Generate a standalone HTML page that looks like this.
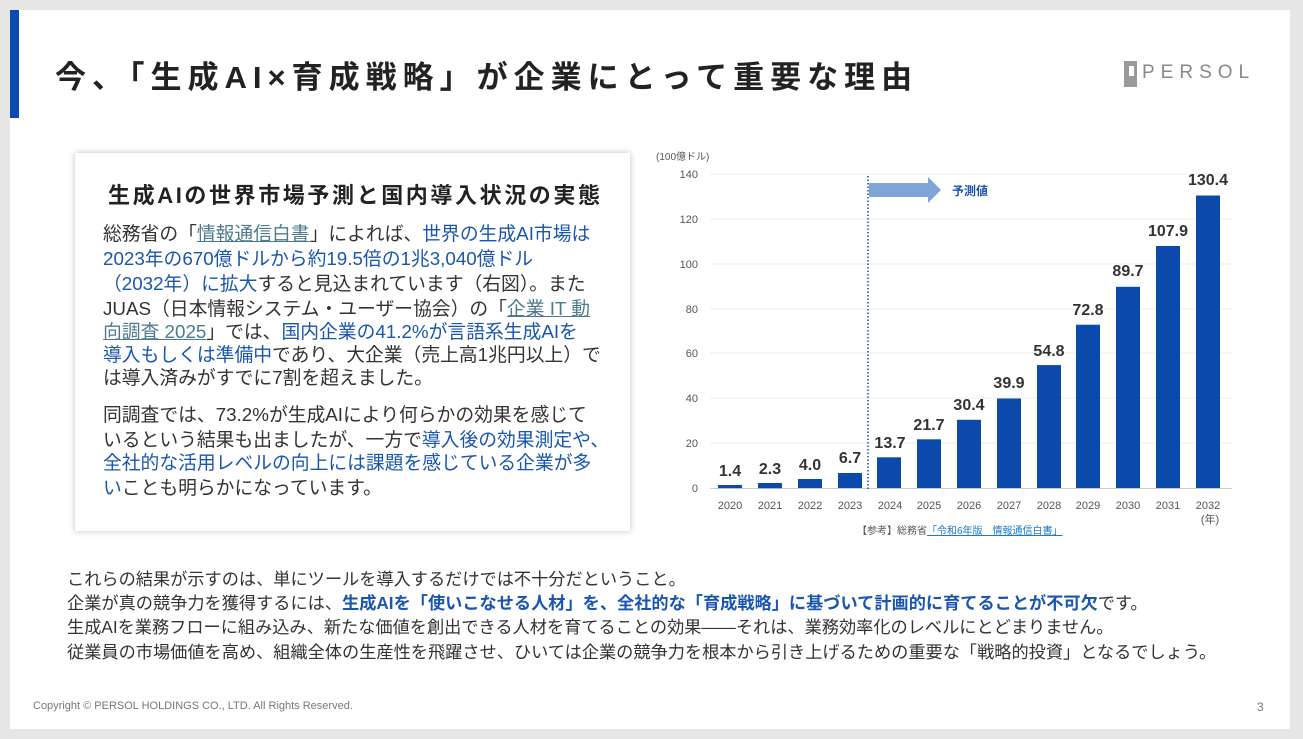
<!DOCTYPE html>
<html><head><meta charset="utf-8"><style>
body{margin:0;width:1303px;height:739px;background:#e6e6e6;font-family:"Liberation Sans","Noto Sans CJK JP",sans-serif;position:relative;overflow:hidden}
.slide{position:absolute;left:10px;top:10px;width:1280px;height:719px;background:#fff}
.abs{position:absolute;white-space:nowrap}
.box{position:absolute;left:75px;top:153px;width:555px;height:378px;background:#fff;box-shadow:0 0 6px rgba(0,0,0,.25)}
.p{position:absolute;left:103px;font-size:18.8px;color:#333;white-space:nowrap;line-height:24px}
.bt{position:absolute;left:67px;font-size:17.2px;color:#333;white-space:nowrap}
span.b,div.b{color:#1a56b0}
.u{color:#4d7a8c;text-decoration:underline}
</style></head><body>
<div class="slide"></div>
<div class="abs" style="left:10px;top:10px;width:9px;height:108px;background:#0b4ab0"></div>
<div class="abs" style="left:55px;top:52px;font-size:31px;font-weight:bold;color:#222;letter-spacing:6px">今、「生成AI×育成戦略」が企業にとって重要な理由</div>
<div class="abs" style="left:1124px;top:61px;width:13px;height:26px;background:#9a9a9a"></div>
<div class="abs" style="left:1129px;top:66px;width:5px;height:10px;background:#fff"></div>
<div class="abs" style="left:1142px;top:62px;font-size:19px;color:#888;letter-spacing:6px">PERSOL</div>

<div class="box"></div>
<div class="abs" style="left:108px;top:178px;font-size:22px;font-weight:bold;color:#222;letter-spacing:2.6px">生成AIの世界市場予測と国内導入状況の実態</div>
<div class="p" style="top:222px">総務省の「<span class="u">情報通信白書</span>」によれば、<span class="b">世界の生成AI市場は</span></div>
<div class="p b" style="top:247px">2023年の670億ドルから約19.5倍の1兆3,040億ドル</div>
<div class="p" style="top:272px"><span class="b">（2032年）に拡大</span>すると見込まれています（右図）。また</div>
<div class="p" style="top:297px">JUAS（日本情報システム・ユーザー協会）の「<span class="u">企業 IT 動</span></div>
<div class="p" style="top:320px"><span class="u">向調査 2025</span>」では、<span class="b">国内企業の41.2%が言語系生成AIを</span></div>
<div class="p" style="top:343px"><span class="b">導入もしくは準備中</span>であり、大企業（売上高1兆円以上）で</div>
<div class="p" style="top:366px">は導入済みがすでに7割を超えました。</div>
<div class="p" style="top:403px">同調査では、73.2%が生成AIにより何らかの効果を感じて</div>
<div class="p" style="top:428px">いるという結果も出ましたが、一方で<span class="b">導入後の効果測定や、</span></div>
<div class="p b" style="top:451px">全社的な活用レベルの向上には課題を感じている企業が多</div>
<div class="p" style="top:476px"><span class="b">い</span>ことも明らかになっています。</div>

<svg class="abs" style="left:0;top:0" width="1303" height="739" font-family="Liberation Sans, Noto Sans CJK JP, sans-serif">
<text x="656" y="160" font-size="10" fill="#555">(100億ドル)</text>
<g stroke="#eee" stroke-width="1">
<line x1="710" y1="174" x2="1232" y2="174"/><line x1="710" y1="219" x2="1232" y2="219"/><line x1="710" y1="264" x2="1232" y2="264"/><line x1="710" y1="309" x2="1232" y2="309"/><line x1="710" y1="353" x2="1232" y2="353"/><line x1="710" y1="398" x2="1232" y2="398"/><line x1="710" y1="443" x2="1232" y2="443"/>
</g>
<line x1="710" y1="488.5" x2="1232" y2="488.5" stroke="#ccc"/>
<g font-size="11" fill="#555" text-anchor="end">
<text x="698" y="178">140</text><text x="698" y="223">120</text><text x="698" y="268">100</text><text x="698" y="313">80</text><text x="698" y="357">60</text><text x="698" y="402">40</text><text x="698" y="447">20</text><text x="698" y="492">0</text>
</g>
<line x1="868" y1="176" x2="868" y2="490" stroke="#1a4f9c" stroke-width="1.5" stroke-dasharray="1.5,2"/>
<polygon points="869,183 928,183 928,177 941,190 928,203 928,197 869,197" fill="#7fa4d6"/>
<text x="952" y="195" font-size="12" font-weight="bold" fill="#1a56b0">予測値</text>
<g fill="#0b4aab">
<rect x="718" y="485" width="24" height="3.1"/>
<rect x="758" y="483" width="24" height="5.2"/>
<rect x="798" y="479" width="24" height="9"/>
<rect x="838" y="473" width="24" height="15"/>
<rect x="877" y="457.3" width="24" height="30.7"/>
<rect x="917" y="439.3" width="24" height="48.7"/>
<rect x="957" y="419.8" width="24" height="68.2"/>
<rect x="997" y="398.5" width="24" height="89.5"/>
<rect x="1037" y="365.1" width="24" height="122.9"/>
<rect x="1076" y="324.7" width="24" height="163.3"/>
<rect x="1116" y="286.8" width="24" height="201.2"/>
<rect x="1156" y="246" width="24" height="242"/>
<rect x="1196" y="195.5" width="24" height="292.5"/>
</g>
<g font-size="16" font-weight="bold" fill="#333" text-anchor="middle">
<text x="730" y="476">1.4</text><text x="770" y="474">2.3</text><text x="810" y="470">4.0</text><text x="850" y="463">6.7</text><text x="890" y="448">13.7</text><text x="929" y="430">21.7</text><text x="969" y="410">30.4</text><text x="1009" y="388">39.9</text><text x="1049" y="356">54.8</text><text x="1088" y="315">72.8</text><text x="1128" y="276">89.7</text><text x="1168" y="236">107.9</text><text x="1208" y="185">130.4</text>
</g>
<g font-size="11" fill="#555" text-anchor="middle">
<text x="730" y="509">2020</text><text x="770" y="509">2021</text><text x="810" y="509">2022</text><text x="850" y="509">2023</text><text x="890" y="509">2024</text><text x="929" y="509">2025</text><text x="969" y="509">2026</text><text x="1009" y="509">2027</text><text x="1049" y="509">2028</text><text x="1088" y="509">2029</text><text x="1128" y="509">2030</text><text x="1168" y="509">2031</text><text x="1208" y="509">2032</text>
<text x="1210" y="523">(年)</text>
</g>
<text x="857" y="534" font-size="10" fill="#555">【参考】総務省<tspan fill="#1a7ac8" text-decoration="underline">「令和6年版　情報通信白書」</tspan></text>
<text x="1257" y="711" font-size="12" fill="#777">3</text>
</svg>

<div class="bt" style="top:565px">これらの結果が示すのは、単にツールを導入するだけでは不十分だということ。</div>
<div class="bt" style="top:589px">企業が真の競争力を獲得するには、<b style="color:#1a56b0">生成AIを「使いこなせる人材」を、全社的な「育成戦略」に基づいて計画的に育てることが不可欠</b>です。</div>
<div class="bt" style="top:613px">生成AIを業務フローに組み込み、新たな価値を創出できる人材を育てることの効果――それは、業務効率化のレベルにとどまりません。</div>
<div class="bt" style="top:638px">従業員の市場価値を高め、組織全体の生産性を飛躍させ、ひいては企業の競争力を根本から引き上げるための重要な「戦略的投資」となるでしょう。</div>
<div class="abs" style="left:33px;top:700px;font-size:11px;color:#777">Copyright © PERSOL HOLDINGS CO., LTD. All Rights Reserved.</div>
</body></html>
